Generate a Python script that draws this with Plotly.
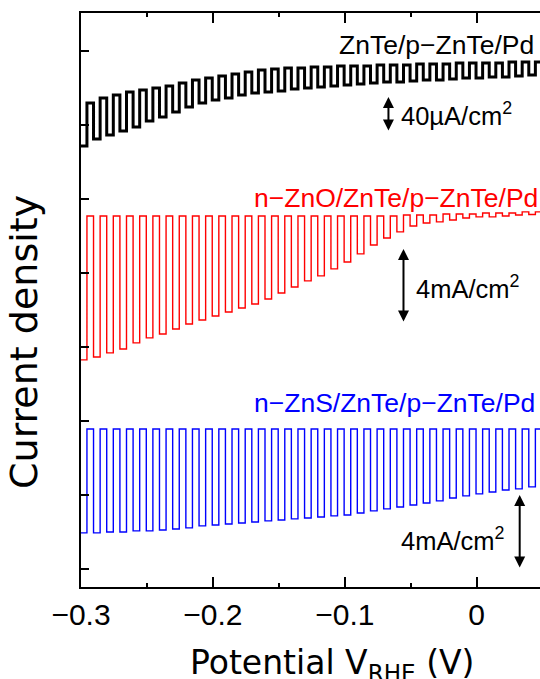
import plotly.graph_objects as go

# ---------------- data ----------------
# potentials (V vs RHE) at which each dark (light-off) segment starts; light turns on 5 mV later
dark_start_V = [-0.2955, -0.2855, -0.2755, -0.2655, -0.2555, -0.2455, -0.2355, -0.2255,
                -0.2155, -0.2055, -0.1955, -0.1855, -0.1755, -0.1655, -0.1555, -0.1455,
                -0.1355, -0.1255, -0.1155, -0.1055, -0.0955, -0.0855, -0.0755, -0.0655,
                -0.0555, -0.0455, -0.0355, -0.0255, -0.0155, -0.0055, 0.0045, 0.0145,
                0.0245, 0.0345, 0.0445]
light_start_V = [-0.2905, -0.2805, -0.2705, -0.2605, -0.2505, -0.2405, -0.2305, -0.2205,
                 -0.2105, -0.2005, -0.1905, -0.1805, -0.1705, -0.1605, -0.1505, -0.1405,
                 -0.1305, -0.1205, -0.1105, -0.1005, -0.0905, -0.0805, -0.0705, -0.0605,
                 -0.0505, -0.0405, -0.0305, -0.0205, -0.0105, -0.0005, 0.0095, 0.0195,
                 0.0295, 0.0395, 0.0495]

# ZnTe/p-ZnTe/Pd  (µA/cm2)
znte_light = [-98.3, -90.3, -85.7, -81.1, -76.6, -69.7, -65.1, -59.4, -53.7, -49.1,
              -45.7, -43.4, -40.0, -37.7, -36.6, -35.4, -33.1, -32.0, -30.9, -29.7,
              -28.6, -27.4, -26.3, -25.1, -25.1, -24.0, -22.9, -22.9, -21.7, -20.6,
              -20.6, -19.4, -19.4, -18.3, -17.1]
znte_dark = [-49.1, -43.4, -40.0, -36.6, -34.3, -32.0, -29.7, -26.3, -22.9, -20.6,
             -18.3, -16.0, -13.7, -11.4, -10.3, -9.1, -9.1, -8.0, -8.0, -6.9,
             -6.9, -6.9, -5.7, -5.7, -5.7, -4.6, -4.6, -4.6, -3.4, -3.4,
             -3.4, -3.4, -2.3, -2.3, -2.3]

# n-ZnO/ZnTe/p-ZnTe/Pd  (mA/cm2)
zno_light = [-7.78, -7.62, -7.40, -7.19, -6.86, -6.59, -6.38, -6.11, -5.84, -5.62,
             -5.41, -5.19, -4.97, -4.76, -4.49, -4.16, -3.84, -3.51, -3.24, -2.86,
             -2.49, -2.05, -1.57, -1.19, -0.86, -0.54, -0.38, -0.32, -0.22, -0.11,
             -0.05, -0.05, 0.00, 0.05, 0.08]
zno_dark = [0.0] * 24 + [0.05, 0.05, 0.05, 0.11, 0.11, 0.11, 0.16, 0.16, 0.16, 0.22, 0.22]

# n-ZnS/ZnTe/p-ZnTe/Pd  (mA/cm2)
zns_light = [-5.62, -5.62, -5.57, -5.57, -5.51, -5.51, -5.46, -5.41, -5.35, -5.24,
             -5.19, -5.14, -5.08, -5.03, -4.97, -4.92, -4.86, -4.81, -4.76, -4.70,
             -4.65, -4.54, -4.43, -4.32, -4.22, -4.11, -4.00, -3.89, -3.73, -3.62,
             -3.51, -3.41, -3.30, -3.24, -3.13]
zns_dark = [0.0] * 35

# vertical stacking of the three curves on the (unlabelled) current-density axis
offset_znte, scale_znte = 27.51, 0.0473   # µA/cm2 -> display units
offset_zno = 19.08
offset_zns = 7.57

x_ticks = [-0.3, -0.2, -0.1, 0.0]
x_tick_text = ["\u22120.3", "\u22120.2", "\u22120.1", "0"]
x_minor = [-0.25, -0.15, -0.05]
y_ticks = [0, 4, 8, 12, 16, 20, 24, 28]


def chopped(light, dark, offset, scale=1.0):
    xs, ys = [-0.3], [light[0]]
    n = len(dark)
    for k in range(n):
        xs += [dark_start_V[k], dark_start_V[k], light_start_V[k]]
        ys += [light[k], dark[k], dark[k]]
        if k + 1 < len(light):
            xs.append(light_start_V[k])
            ys.append(light[k + 1])
    return xs, [offset + scale * v for v in ys]


FONT = "Liberation Sans, Arial, sans-serif"
fig = go.Figure()

x, y = chopped(znte_light, znte_dark, offset_znte, scale_znte)
fig.add_trace(go.Scatter(x=x, y=y, mode="lines", line=dict(color="black", width=3),
                         name="ZnTe/p-ZnTe/Pd", showlegend=False))
x, y = chopped(zno_light, zno_dark, offset_zno)
fig.add_trace(go.Scatter(x=x, y=y, mode="lines", line=dict(color="#ff0000", width=1.4),
                         name="n-ZnO/ZnTe/p-ZnTe/Pd", showlegend=False))
x, y = chopped(zns_light, zns_dark, offset_zns)
fig.add_trace(go.Scatter(x=x, y=y, mode="lines", line=dict(color="#0000ff", width=1.4),
                         name="n-ZnS/ZnTe/p-ZnTe/Pd", showlegend=False))

ann = []
# curve labels
ann.append(dict(x=-0.1062, y=28.32, text="ZnTe/p\u2212ZnTe/Pd", xanchor="left", yanchor="middle",
                showarrow=False, font=dict(size=26.5, color="black", family=FONT)))
ann.append(dict(x=-0.1700, y=20.05, text="n\u2212ZnO/ZnTe/p\u2212ZnTe/Pd", xanchor="left",
                yanchor="middle", showarrow=False, font=dict(size=26.5, color="#ff0000", family=FONT)))
ann.append(dict(x=-0.1700, y=8.97, text="n\u2212ZnS/ZnTe/p\u2212ZnTe/Pd", xanchor="left",
                yanchor="middle", showarrow=False, font=dict(size=26.5, color="#0000ff", family=FONT)))
# scale bars
for (xa, y0, y1) in [(-0.0669, 23.62, 23.62 + 40 * scale_znte), (-0.0555, 13.3, 17.3), (0.0326, 0.0, 4.0)]:
    ann.append(dict(x=xa, y=y1, ax=xa, ay=y0, axref="x", ayref="y", xref="x", yref="y",
                    text="", showarrow=True, arrowhead=2, arrowside="end+start",
                    arrowsize=1.1, arrowwidth=2, arrowcolor="black", standoff=0, startstandoff=0))
ann.append(dict(x=-0.0590, y=24.6, text="40\u00b5A/cm<sup>2</sup>", xanchor="left", yanchor="middle",
                showarrow=False, font=dict(size=25.5, color="black", family=FONT)))
ann.append(dict(x=-0.0475, y=15.25, text="4mA/cm<sup>2</sup>", xanchor="left", yanchor="middle",
                showarrow=False, font=dict(size=25.5, color="black", family=FONT)))
ann.append(dict(x=-0.0590, y=1.6, text="4mA/cm<sup>2</sup>", xanchor="left", yanchor="middle",
                showarrow=False, font=dict(size=25.5, color="black", family=FONT)))
# axis titles
ann.append(dict(xref="paper", yref="paper", x=0.547, y=-0.135, text="Potential V<sub>RHE</sub> (V)",
                xanchor="center", yanchor="middle", showarrow=False,
                font=dict(size=33, color="black", family="DejaVu Sans, sans-serif")))
ann.append(dict(xref="paper", yref="paper", x=-0.124, y=0.427, text="Current density", textangle=-90,
                xanchor="center", yanchor="middle", showarrow=False,
                font=dict(size=38, color="black", family="DejaVu Sans, sans-serif")))

fig.update_layout(
    width=540, height=679,
    margin=dict(l=81, r=0, t=13, b=92),
    paper_bgcolor="white", plot_bgcolor="white",
    annotations=ann,
    font=dict(family=FONT, color="black"),
)
fig.update_xaxes(range=[-0.3, 0.048], tickvals=x_ticks, ticktext=x_tick_text,
                 ticks="inside", ticklen=10, tickwidth=2, tickcolor="black",
                 minor=dict(tickvals=x_minor, ticks="inside", ticklen=4, tickwidth=2, tickcolor="black"),
                 showline=True, linewidth=2, linecolor="black", mirror="ticks",
                 showgrid=False, zeroline=False, tickfont=dict(size=30, family=FONT, color="black"))
fig.update_yaxes(range=[-0.973, 30.05], tickvals=y_ticks, showticklabels=False,
                 ticks="inside", ticklen=8, tickwidth=2, tickcolor="black",
                 showline=True, linewidth=2, linecolor="black", mirror=False,
                 showgrid=False, zeroline=False)

fig.write_html("out.html", config={"displayModeBar": False},
               post_script="document.body.style.margin='0px';document.body.style.overflow='hidden';")
